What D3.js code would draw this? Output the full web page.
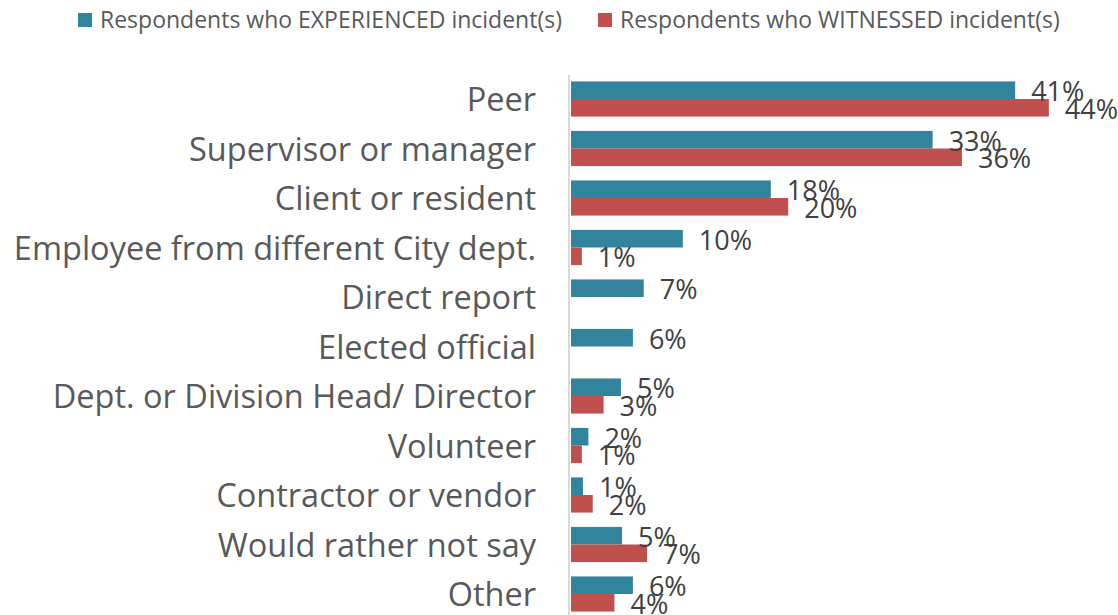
<!DOCTYPE html>
<html>
<head>
<meta charset="utf-8">
<script src="https://cdn.jsdelivr.net/npm/d3@7"></script>
<style>
  body { margin: 0; background: #fff; }
  text { font-family: "Open Sans", "Noto Sans", sans-serif; }
</style>
</head>
<body>
<script>
// categories, top to bottom
var categories = ["Peer", "Supervisor or manager", "Client or resident",
    "Employee from different City dept.", "Direct report", "Elected official",
    "Dept. or Division Head/ Director", "Volunteer", "Contractor or vendor",
    "Would rather not say", "Other"]

// percent of respondents, null = no bar
var experienced = [40.9, 33.3, 18.4, 10.3, 6.7, 5.7, 4.6, 1.6, 1.1, 4.7, 5.7]
var witnessed = [44.0, 36.0, 20.0, 1.0, null, null, 3.0, 1.0, 2.0, 7.0, 4.0]

var series = ["Respondents who EXPERIENCED incident(s)", "Respondents who WITNESSED incident(s)"]
var colors = ["#31849b", "#c0504d"]

var w = 1118
var h = 615

var svg = d3.select("body")
            .append("svg")
            .attr("width", w)
            .attr("height", h)

var x = d3.scaleLinear()
            .domain([0, 50])
            .range([571, 1114])

var y = d3.scaleBand()
            .domain(categories)
            .range([74.25, 618.75])
            .paddingInner(0.29)
            .paddingOuter(0.145)

var y_sub = d3.scaleBand()
            .domain([0, 1])
            .range([0, y.bandwidth()])

var rows = []
categories.forEach(function(c, i) {
    rows.push({cat: c, s: 0, v: experienced[i]})
    if (witnessed[i] !== null) rows.push({cat: c, s: 1, v: witnessed[i]})
})

// bars
svg.selectAll(".bar")
    .data(rows)
    .enter()
    .append("rect")
    .classed("bar", true)
    .attr("x", x(0))
    .attr("y", d => y(d.cat) + y_sub(d.s))
    .attr("width", d => x(d.v) - x(0))
    .attr("height", y_sub.bandwidth())
    .attr("fill", d => colors[d.s])

// value labels, just past the bar end, baseline a bit under the bar
svg.selectAll(".val")
    .data(rows)
    .enter()
    .append("text")
    .classed("val", true)
    .attr("x", d => x(d.v) + 16)
    .attr("y", d => y(d.cat) + y_sub(d.s) + y_sub.bandwidth() + 2)
    .attr("fill", "#404040")
    .style("font-size", "27px")
    .text(d => Math.round(d.v) + "%")

// category axis
var yAxis = svg.append("g")
    .attr("transform", "translate(569,0)")
    .call(d3.axisLeft(y).tickSize(0).tickPadding(33))

yAxis.select(".domain").remove()
yAxis.selectAll("text")
    .attr("fill", "#595959")
    .attr("dy", "0.37em")
    .style("font-size", "32.5px")
    .style("font-family", "'Open Sans', 'Noto Sans', sans-serif")

svg.append("line")
    .attr("x1", 569).attr("x2", 569)
    .attr("y1", 75).attr("y2", h)
    .attr("stroke", "#d9d9d9")
    .attr("stroke-width", 2)

// legend
var legendX = [78, 598]
var legend = svg.selectAll(".legend")
    .data(series)
    .enter()
    .append("g")
    .classed("legend", true)
    .attr("transform", (d, i) => "translate(" + legendX[i] + ",13)")

legend.append("rect")
    .attr("width", 14)
    .attr("height", 14)
    .attr("fill", (d, i) => colors[i])

legend.append("text")
    .attr("x", 22)
    .attr("y", 15)
    .attr("fill", "#595959")
    .style("font-size", "23px")
    .text(d => d)
</script>
</body>
</html>
